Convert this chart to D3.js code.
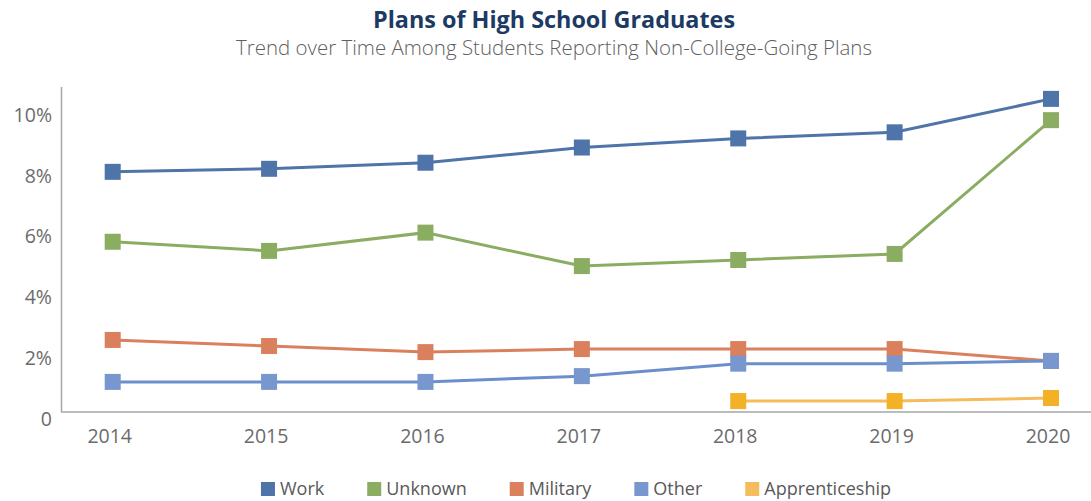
<!DOCTYPE html>
<html><head><meta charset="utf-8">
<script src="https://cdn.jsdelivr.net/npm/d3@7"></script>
<style>
html,body{margin:0;padding:0;background:#fff;}
svg{display:block;font-family:"Open Sans",sans-serif;}
</style></head>
<body>
<svg id="chart" width="1091" height="501"></svg>
<script>
const years = ["2014","2015","2016","2017","2018","2019","2020"];
const work = [7.9, 8.0, 8.2, 8.7, 9.0, 9.2, 10.3];
const unknown = [5.6, 5.3, 5.9, 4.8, 5.0, 5.2, 9.6];
const military = [2.37, 2.17, 1.97, 2.07, 2.07, 2.07, 1.68];
const other = [0.99, 0.99, 0.99, 1.18, 1.59, 1.59, 1.68];
const apprenticeship = [null, null, null, null, 0.36, 0.36, 0.46];
const yTicks = [0, 2, 4, 6, 8, 10];
const seriesNames = ["Work","Unknown","Military","Other","Apprenticeship"];
const seriesValues = [work, unknown, military, other, apprenticeship];
const markerColors = ["#4e74a9","#8aad62","#da805c","#7797ce","#f2b126"];
const lineColors = ["#4e74a9","#8aad62","#da805c","#6a8fcc","#f4bc5c"];
const legendColors = ["#4e74a9","#8aad62","#da805c","#7797ce","#f4bc5c"];

const svg = d3.select("#chart");

svg.append("text").attr("x", 554).attr("y", 28).attr("text-anchor","middle")
  .attr("font-size", 24).attr("font-weight", 700).attr("fill", "#1c3a64")
  .attr("textLength", 362).attr("lengthAdjust", "spacingAndGlyphs")
  .text("Plans of High School Graduates");
svg.append("text").attr("x", 554).attr("y", 55).attr("text-anchor","middle")
  .attr("font-size", 19.5).attr("font-weight", 300).attr("fill", "#5f5f5f")
  .attr("textLength", 636).attr("lengthAdjust", "spacingAndGlyphs")
  .text("Trend over Time Among Students Reporting Non-College-Going Plans");

const x = d3.scalePoint().domain(years).range([112.7, 1051]);
const y = d3.scaleLinear().domain([0, 10]).range([412, 108]);

// axes lines
svg.append("line").attr("x1", 61.5).attr("x2", 61.5).attr("y1", 87).attr("y2", 412)
  .attr("stroke", "#a6a6a6").attr("stroke-width", 1.5);
svg.append("line").attr("x1", 61).attr("x2", 1091).attr("y1", 412).attr("y2", 412)
  .attr("stroke", "#a6a6a6").attr("stroke-width", 1.5);

// y tick labels
svg.append("g").selectAll("text").data(yTicks).join("text")
  .attr("x", 52).attr("y", d => y(d) + 7).attr("dy", "0.35em")
  .attr("text-anchor", "end").attr("font-size", 19.5).attr("fill", "#6b6b6b")
  .text(d => d === 0 ? "0" : d + "%");

// x tick labels
svg.append("g").selectAll("text").data(years).join("text")
  .attr("x", d => x(d) - 3).attr("y", 436).attr("dy", "0.35em")
  .attr("text-anchor", "middle").attr("font-size", 19.5).attr("fill", "#6b6b6b")
  .text(d => d);

const line = d3.line().defined(d => d[1] !== null).x(d => x(d[0])).y(d => y(d[1]));
const ms = 16;
seriesValues.forEach((vals, i) => {
  const pts = years.map((yr, j) => [yr, vals[j]]);
  const g = svg.append("g");
  g.append("path").datum(pts).attr("d", line).attr("fill", "none")
    .attr("stroke", lineColors[i]).attr("stroke-width", 3);
  g.selectAll("rect").data(pts.filter(p => p[1] !== null)).join("rect")
    .attr("x", p => x(p[0]) - ms/2).attr("y", p => y(p[1]) - ms/2)
    .attr("width", ms).attr("height", ms).attr("fill", markerColors[i]);
});

// legend
const lg = svg.append("g");
const items = lg.selectAll("g").data(seriesNames).join("g");
items.append("rect").attr("width", 14).attr("height", 14).attr("y", 482)
  .attr("fill", (d, i) => legendColors[i]);
items.append("text").attr("x", 19).attr("y", 489).attr("dy", "0.35em")
  .attr("font-size", 18).attr("fill", "#595959").text(d => d);
let xs = 0; const offs = [];
items.each(function(d, i) {
  const w = d3.select(this).select("text").node().getComputedTextLength();
  offs.push(xs); xs += 19 + w + 43;
});
const total = xs - 43;
const start = 576 - total / 2;
items.attr("transform", (d, i) => `translate(${start + offs[i]},0)`);
</script>
</body></html>
